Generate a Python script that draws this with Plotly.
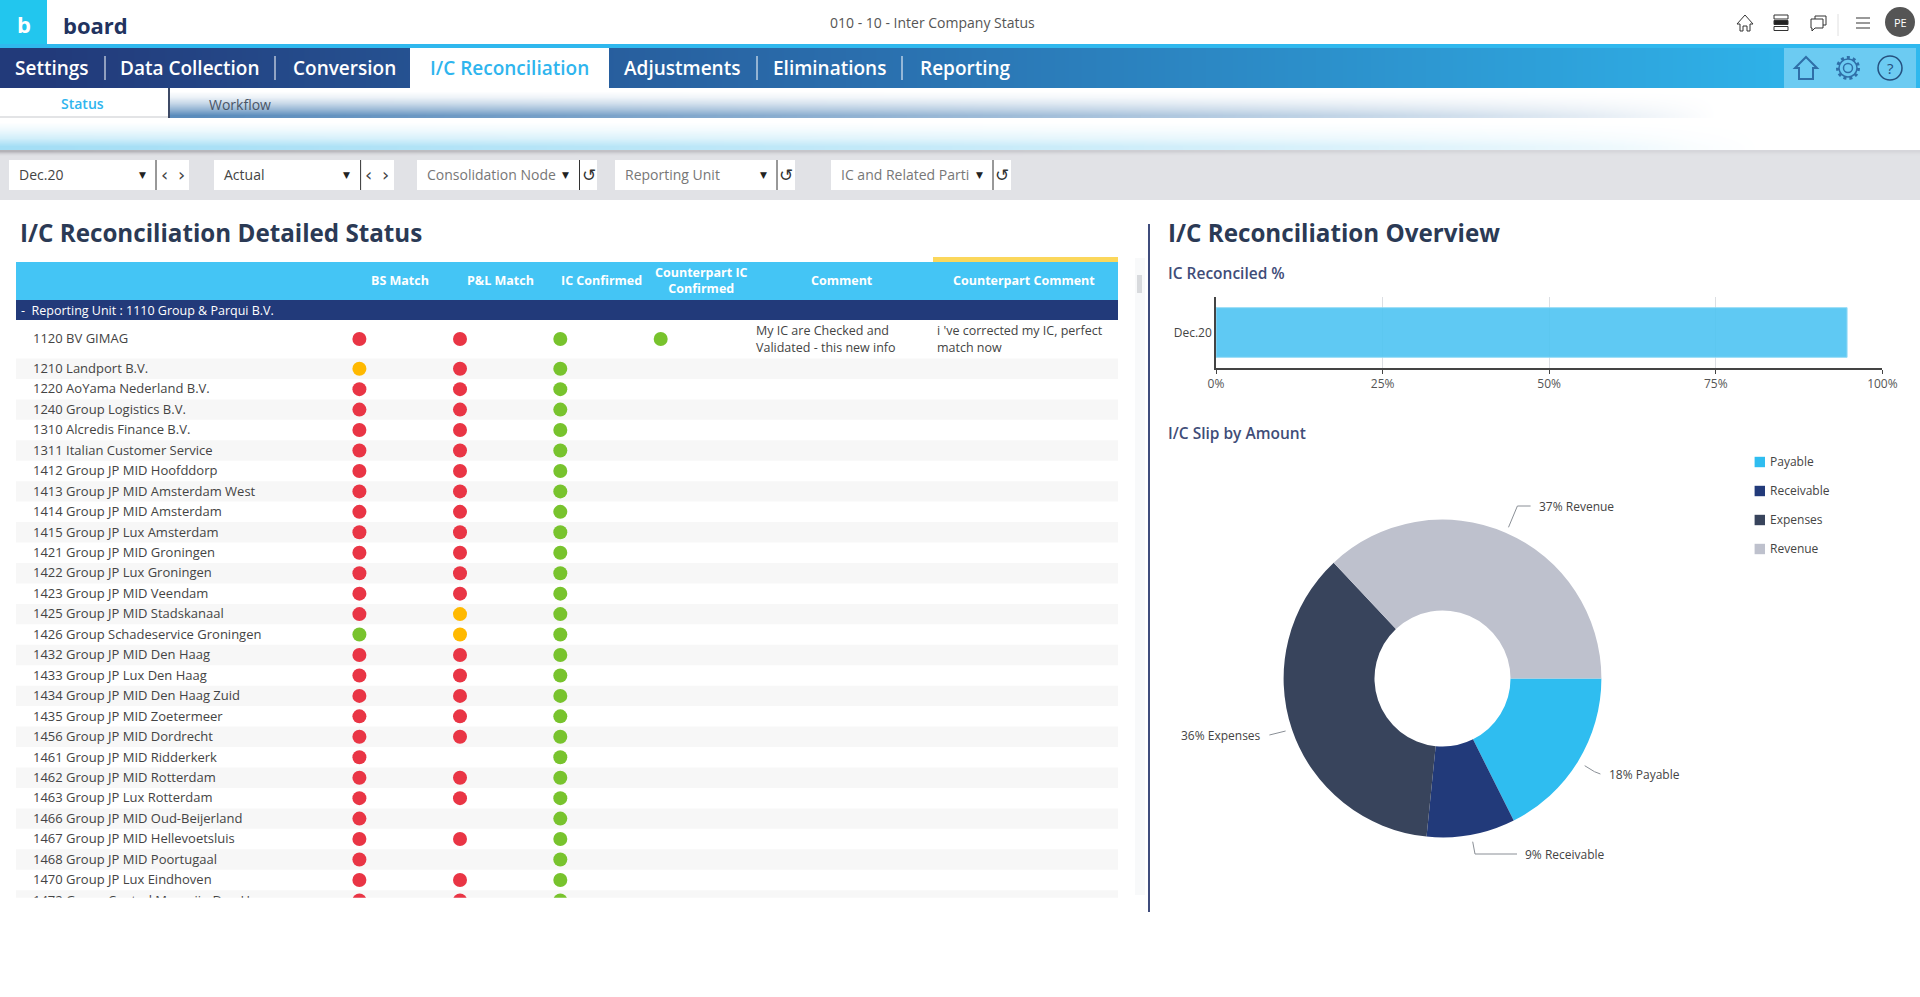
import plotly.graph_objects as go
import pandas as pd

# Data for the status table
entities = ['1120 BV GIMAG', '1210 Landport B.V.', '1220 AoYama Nederland B.V.', '1240 Group Logistics B.V.',
            '1310 Alcredis Finance B.V.', '1311 Italian Customer Service', '1412 Group JP MID Hoofddorp',
            '1413 Group JP MID Amsterdam West', '1414 Group JP MID Amsterdam', '1415 Group JP Lux Amsterdam',
            '1421 Group JP MID Groningen', '1422 Group JP Lux Groningen', '1423 Group JP MID Veendam',
            '1425 Group JP MID Stadskanaal', '1426 Group Schadeservice Groningen', '1432 Group JP MID Den Haag',
            '1433 Group JP Lux Den Haag', '1434 Group JP MID Den Haag Zuid', '1435 Group JP MID Zoetermeer',
            '1456 Group JP MID Dordrecht', '1461 Group JP MID Ridderkerk', '1462 Group JP MID Rotterdam',
            '1463 Group JP Lux Rotterdam', '1466 Group JP MID Oud-Beijerland', '1467 Group JP MID Hellevoetsluis',
            '1468 Group JP MID Poortugaal', '1470 Group JP Lux Eindhoven', '1472 Group Central Magazijn Den Haag']
bs_match = ['R', 'A', 'R', 'R', 'R', 'R', 'R', 'R', 'R', 'R', 'R', 'R', 'R', 'R',
            'G', 'R', 'R', 'R', 'R', 'R', 'R', 'R', 'R', 'R', 'R', 'R', 'R', 'R']
pl_match = ['R', 'R', 'R', 'R', 'R', 'R', 'R', 'R', 'R', 'R', 'R', 'R', 'R', 'A',
            'A', 'R', 'R', 'R', 'R', 'R', '', 'R', 'R', '', 'R', '', 'R', 'R']
ic_confirmed = ['G'] * 28
counterpart_confirmed = ['G'] + [''] * 27

# Data for the bar and the donut
bar_periods = ['Dec.20']
bar_values = [94.7]
bar_ticks = [0, 25, 50, 75, 100]
slip_labels = ['Payable', 'Receivable', 'Expenses', 'Revenue']
slip_values = [17.6, 9.0, 36.4, 37.0]
slip_colors = ['#2fbdf0', '#223a7a', '#38445c', '#bec1cd']

# Texts of the page
nav_labels = ['Settings', 'Data Collection', 'Conversion', 'I/C Reconciliation', 'Adjustments', 'Eliminations', 'Reporting']
filter_labels = ['Dec.20', 'Actual', 'Consolidation Node', 'Reporting Unit', 'IC and Related Parti']
column_labels = ['BS Match', 'P&L Match', 'IC Confirmed', 'Counterpart IC<br>Confirmed', 'Comment', 'Counterpart Comment']

df = pd.DataFrame({'entity': entities, 'BS': bs_match, 'PL': pl_match, 'IC': ic_confirmed, 'CP': counterpart_confirmed})
df['y'] = [339] + [368.7 + 20.45 * i for i in range(27)]  # first row is a taller one

status_colors = {'R': '#e93545', 'A': '#ffb900', 'G': '#78c32d'}
base_font = 'Open Sans'
W = 1920
H = 997

fig = go.Figure()

# Gradient bands of the header, drawn as smooth heatmaps on the page axes
nav_x = [W * i / 20 for i in range(21)]
fig.add_trace(go.Heatmap(x=nav_x, y=[48, 68, 88], z=[[i / 19 for i in range(20)]] * 2, zsmooth='best', showscale=False,
                         hoverinfo='skip', zmin=0, zmax=1,
                         colorscale=[[0, '#223a7a'], [0.45, '#2a6fae'], [1, '#2fb8ee']]))

band_x = [169 + (W - 169) * i / 30 for i in range(31)]
band_y = [88, 94, 100, 106, 112, 118]
band_z = [[v * max(0, 1 - (x - 169) / 1500) ** 0.7 for x in band_x[:-1]] for v in [0, 0.12, 0.35, 0.65, 1]]
fig.add_trace(go.Heatmap(x=band_x, y=band_y, z=band_z, zsmooth='best', showscale=False, hoverinfo='skip', zmin=0, zmax=1,
                         colorscale=[[0, '#ffffff'], [1, '#5a8cbc']]))

glow_x = [W * i / 30 for i in range(31)]
glow_y = [118, 126, 134, 142, 150]
glow_z = [[v * max(0, 1 - x / 1680) ** 0.6 for x in glow_x[:-1]] for v in [0, 0.2, 0.5, 1]]
fig.add_trace(go.Heatmap(x=glow_x, y=glow_y, z=glow_z, zsmooth='best', showscale=False, hoverinfo='skip', zmin=0, zmax=1,
                         colorscale=[[0, '#ffffff'], [1, '#a4def5']]))

shadow_z = [[v * max(0.25, 1 - x / 1900) for x in glow_x[:-1]] for v in [1, 0.4, 0]]
fig.add_trace(go.Heatmap(x=glow_x, y=[150, 152, 154, 157], z=shadow_z, zsmooth='best', showscale=False, hoverinfo='skip',
                         zmin=0, zmax=1, colorscale=[[0, '#e1e2e6'], [1, '#b4b3b8']]))

# Bar chart
fig.add_trace(go.Bar(
    x=bar_values,
    y=bar_periods,
    orientation='h',
    xaxis='x2',
    yaxis='y2',
    opacity=0.92,  # grid shows through the bar
    marker=dict(color='#52c5f2', line=dict(color='#8fdaf6', width=1)),
    hoverinfo='skip'
))

# Donut chart
fig.add_trace(go.Pie(
    labels=slip_labels,
    values=slip_values,
    hole=0.428,
    rotation=90,  # first slice starts at three o'clock
    direction='clockwise',
    sort=False,
    textinfo='none',
    showlegend=False,
    marker=dict(colors=slip_colors, line=dict(width=0)),
    domain=dict(x=[1283.6 / W, 1601.4 / W], y=[1 - 837.7 / H, 1 - 519.3 / H])
))

# Table labels and status dots, clipped by the table axes like the scrolled grid
fig.add_trace(go.Scatter(x=[33] * len(df), y=df['y'] + 1, text=df['entity'], mode='text', textposition='middle right',
                         textfont=dict(family=base_font, size=13, color='#444444'), xaxis='x3', yaxis='y3',
                         showlegend=False, hoverinfo='skip'))

for column, center in zip(['BS', 'PL', 'IC', 'CP'], [359.4, 460, 560.3, 660.7]):
    rows = df[df[column] != '']
    fig.add_trace(go.Scatter(
        x=[center] * len(rows),
        y=rows['y'],
        mode='markers',
        marker=dict(size=14, color=[status_colors[s] for s in rows[column]], line=dict(width=0)),
        xaxis='x3',
        yaxis='y3',
        showlegend=False,
        hoverinfo='skip'
    ))

# Flat rectangles of the page
flat_boxes = [
    (0, 0, 47, 44, '#22c6ee'), (0, 44, W, 48, '#2fb8ee'), (410, 48, 609, 88, '#ffffff'),
    (1784, 48, 1916, 88, '#6ccbf2'), (0, 116, 169, 118, '#e3e4e6'), (168, 88, 170, 118, '#3d4a66'),
    (0, 157, W, 200, '#e1e2e6'), (16, 262, 1118, 300, '#44c5f5'), (933, 257, 1118, 262, '#fbd75b'),
    (16, 300, 1118, 320, '#223a7a'), (1135, 258, 1145, 895, '#f8f9fa'), (1137, 275, 1142, 293, '#d8dadd'),
    (1148, 224, 1150, 912, '#3f4c7c'),
]
for x0, y0, x1, y1, color in flat_boxes:
    fig.add_shape(type='rect', x0=x0, y0=y0, x1=x1, y1=y1, fillcolor=color, line_width=0, layer='above')

# Row stripes
for y in df['y'][1::2]:
    fig.add_shape(type='rect', x0=16, x1=1118, y0=y - 10.2, y1=min(y + 10.2, 897.7), fillcolor='#f7f7f7', line_width=0, layer='below')

# Navigation bar
nav_centers = [52, 190, 344, 509.5, 681.5, 829.5, 965]
for label, center in zip(nav_labels, nav_centers):
    fig.add_annotation(x=center, y=68, text=label, showarrow=False,
                       font=dict(family=base_font, size=19, weight=600,
                                 color='#2fb5ee' if label == 'I/C Reconciliation' else '#ffffff'))
for x in [105, 275, 757, 902]:
    fig.add_shape(type='line', x0=x, x1=x, y0=56, y1=80, line=dict(color='#ffffff', width=1), layer='above')

# Filter boxes
box_left = [9, 214, 417, 615, 831]
box_right = [189, 394, 597, 795, 1011]
arrow_x = [142, 346.5, 565, 763, 979]
bar_x = [156, 360.6, 579.5, 777, 993]
for i, label in enumerate(filter_labels):
    fig.add_shape(type='rect', x0=box_left[i], x1=box_right[i], y0=160, y1=190, fillcolor='#ffffff', line_width=0, layer='above')
    fig.add_shape(type='line', x0=bar_x[i], x1=bar_x[i], y0=160, y1=190, line=dict(color='#333333', width=1), layer='above')
    fig.add_annotation(x=box_left[i] + 7.5, y=174, text=label, showarrow=False, xanchor='left',
                       font=dict(family=base_font, size=14, color='#444444' if i < 2 else '#777777'))
    fig.add_annotation(x=arrow_x[i], y=175, text='▼', showarrow=False, font=dict(family='DejaVu Sans', size=9, color='#222222'))
    if i < 2:
        fig.add_annotation(x=bar_x[i] + 8, y=174, text='‹', showarrow=False, font=dict(family='DejaVu Sans', size=18, color='#444444'))
        fig.add_annotation(x=bar_x[i] + 25, y=174, text='›', showarrow=False, font=dict(family='DejaVu Sans', size=18, color='#444444'))
    else:
        fig.add_annotation(x=bar_x[i] + 9, y=175, text='↺', showarrow=False, font=dict(family='DejaVu Sans', size=17, color='#333333'))

# Table header
header_x = [400, 500.5, 601, 701.5, 842, 1024]
for label, center in zip(column_labels, header_x):
    fig.add_annotation(x=center, y=280, text=label, showarrow=False,
                       font=dict(family=base_font, size=12.5, weight=700, color='#ffffff'))
fig.add_annotation(x=18.5, y=310, text='-&nbsp; Reporting Unit : 1110 Group &amp; Parqui B.V.', showarrow=False, xanchor='left',
                   font=dict(family=base_font, size=12.5, color='#ffffff'))

# Comment cells
for x, top, bottom in [(753.5, 'My IC are Checked and', 'Validated - this new info'), (935, "i 've corrected my IC, perfect", 'match now')]:
    fig.add_annotation(x=x, y=330, text=top, showarrow=False, xanchor='left', font=dict(family=base_font, size=12.5, color='#444444'))
    fig.add_annotation(x=x, y=347, text=bottom, showarrow=False, xanchor='left', font=dict(family=base_font, size=12.5, color='#444444'))

# Titles and other texts
fig.add_annotation(x=932.6, y=22, text='010 - 10 - Inter Company Status', showarrow=False, font=dict(family=base_font, size=14, color='#555555'))
fig.add_annotation(x=24, y=24, text='b', showarrow=False, font=dict(family=base_font, size=22, weight=700, color='#ffffff'))
fig.add_annotation(x=95, y=25, text='board', showarrow=False, font=dict(family=base_font, size=22, weight=700, color='#22335f'))
fig.add_annotation(x=82, y=103.7, text='Status', showarrow=False, font=dict(family=base_font, size=14, weight=600, color='#2fb5ee'))
fig.add_annotation(x=240, y=104, text='Workflow', showarrow=False, font=dict(family=base_font, size=14, color='#4a5566'))
fig.add_annotation(x=17.5, y=232, text='I/C Reconciliation Detailed Status', showarrow=False, xanchor='left',
                   font=dict(family=base_font, size=24.2, weight=700, color='#2b3a55'))
fig.add_annotation(x=1165.5, y=232, text='I/C Reconciliation Overview', showarrow=False, xanchor='left',
                   font=dict(family=base_font, size=24.2, weight=700, color='#2b3a55'))
fig.add_annotation(x=1165.5, y=273, text='IC Reconciled %', showarrow=False, xanchor='left',
                   font=dict(family=base_font, size=15.5, weight=600, color='#3f4d78'))
fig.add_annotation(x=1165.5, y=433, text='I/C Slip by Amount', showarrow=False, xanchor='left',
                   font=dict(family=base_font, size=15.5, weight=600, color='#3f4d78'))

# Donut labels with leader lines, donut legend
label_spots = [(1606.5, 774), (1523.2, 854), (1178.5, 735), (1536.5, 506.7)]
leader_paths = ['M1584.7,765.7 L1594.5,771.7 L1600.4,774', 'M1472.7,841.7 L1475,854 L1517,854',
                'M1285.6,731 L1269.4,735', 'M1508.5,527.3 L1517.4,506 L1530.6,506']
legend_y = [462, 491, 520, 549]
for i, label in enumerate(slip_labels):
    fig.add_annotation(x=label_spots[i][0], y=label_spots[i][1], text=f'{slip_values[i]:.0f}% {label}', showarrow=False, xanchor='left',
                       font=dict(family=base_font, size=12, color='#444444'))
    fig.add_shape(type='path', path=leader_paths[i], line=dict(color='#8a8f96', width=1), layer='above')
    fig.add_shape(type='rect', x0=1754.6, x1=1765, y0=legend_y[i] - 5.2, y1=legend_y[i] + 5.2, fillcolor=slip_colors[i], line_width=0, layer='above')
    fig.add_annotation(x=1767.9, y=legend_y[i] - 0.5, text=label, showarrow=False, xanchor='left',
                       font=dict(family=base_font, size=12, color='#444444'))

# Icons on the right of the page
fig.add_shape(type='circle', x0=1885, x1=1915, y0=7, y1=37, fillcolor='#555555', line_width=0, layer='above')
fig.add_annotation(x=1900, y=22, text='PE', showarrow=False, font=dict(family=base_font, size=11, color='#ffffff'))
fig.add_shape(type='path', path='M1737,24 L1745,15 L1753,24 L1750,24 L1750,31 L1747,31 L1747,26 L1743,26 L1743,31 L1740,31 L1740,24 Z',
              line=dict(color='#333333', width=1), layer='above')
for y0, fill in [(15, '#ffffff'), (20.5, '#222222'), (26.5, '#ffffff')]:
    fig.add_shape(type='rect', x0=1774, x1=1788, y0=y0, y1=y0 + 4, fillcolor=fill, line=dict(color='#333333', width=1), layer='above')
fig.add_shape(type='path', path='M1811,19 L1823,19 L1823,28 L1815,28 L1812,31 L1812,28 L1811,28 Z M1815,19 L1815,16 L1826,16 L1826,25 L1823,25',
              line=dict(color='#333333', width=1), layer='above')
fig.add_shape(type='line', x0=1838, x1=1838, y0=14, y1=36, line=dict(color='#e0e0e0', width=1), layer='above')
for y in [18, 23, 28]:
    fig.add_shape(type='line', x0=1856, x1=1870, y0=y, y1=y, line=dict(color='#777777', width=1.5), layer='above')
icon_blue = '#2f6fa8'
fig.add_shape(type='path', path='M1806,57 L1817,68 L1813,68 L1813,79 L1799,79 L1799,68 L1795,68 Z', line=dict(color=icon_blue, width=2), layer='above')
fig.add_shape(type='circle', x0=1837.5, x1=1858.5, y0=57.5, y1=78.5, line=dict(color=icon_blue, width=3, dash='3px,3px'), layer='above')
fig.add_shape(type='circle', x0=1839, x1=1857, y0=59, y1=77, line=dict(color=icon_blue, width=1.5), layer='above')
fig.add_shape(type='circle', x0=1843.5, x1=1852.5, y0=63.5, y1=72.5, line=dict(color=icon_blue, width=1.5), layer='above')
fig.add_shape(type='circle', x0=1878, x1=1902, y0=56, y1=80, line=dict(color='#25507f', width=1.5), layer='above')
fig.add_annotation(x=1890, y=68, text='?', showarrow=False, font=dict(family=base_font, size=15, color='#25507f'))

# Update layout for the page and its axes
fig.update_layout(
    width=W,
    height=H,
    margin=dict(l=0, r=0, t=0, b=0, autoexpand=False),  # page coordinates must stay exact
    paper_bgcolor='#ffffff',
    plot_bgcolor='rgba(0,0,0,0)',
    showlegend=False,
    bargap=0.3,  # Gap between bars
    xaxis=dict(domain=[0, 1], range=[0, W], visible=False, fixedrange=True, automargin=False),
    yaxis=dict(domain=[0, 1], range=[H, 0], visible=False, fixedrange=True, automargin=False),
    xaxis2=dict(domain=[1216 / W, 1882.4 / W], range=[0, 100], anchor='y2', tickvals=bar_ticks,
                ticktext=[f'{t}%' for t in bar_ticks], ticks='outside', ticklen=4, tickcolor='#444444',
                showline=True, linecolor='#444444', linewidth=1.5, gridcolor='#dcdfe3', zeroline=False,
                tickfont=dict(family=base_font, size=12, color='#555555'), automargin=False, fixedrange=True),
    yaxis2=dict(domain=[1 - 368 / H, 1 - 297 / H], anchor='x2', showline=True, linecolor='#444444', linewidth=1.5,
                ticks='', zeroline=False, tickfont=dict(family=base_font, size=12, color='#444444'), automargin=False, fixedrange=True),
    xaxis3=dict(domain=[16 / W, 1118 / W], range=[16, 1118], anchor='y3', visible=False, fixedrange=True, automargin=False),
    yaxis3=dict(domain=[1 - 897.7 / H, 1 - 320 / H], range=[897.7, 320], anchor='x3', visible=False, fixedrange=True, automargin=False)
)

# Write the page, without the margin of the browser around it
fig.write_html("out.html", config=dict(displayModeBar=False), post_script="document.body.style.margin = '0';")
